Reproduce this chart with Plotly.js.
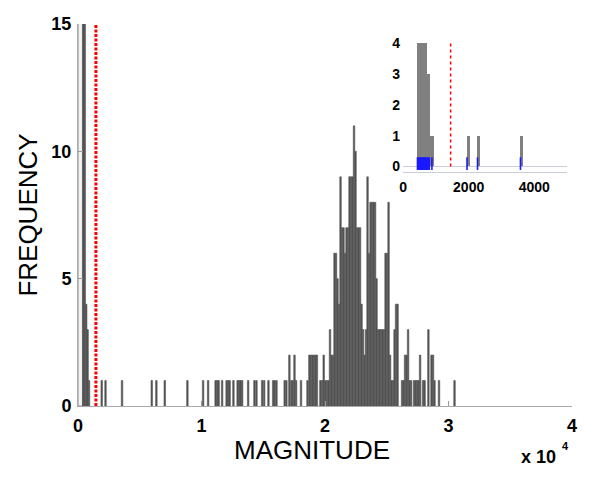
<!DOCTYPE html>
<html><head><meta charset="utf-8">
<script src="https://cdn.plot.ly/plotly-3.0.1.min.js"></script>
<style>html,body{margin:0;padding:0;background:#fff}#chart{width:600px;height:479px}</style>
</head><body><div id="chart"></div>
<script>
// Main histogram: bin centres (magnitude) and counts
const binCenters = [430,550,665,778,891,
  1921,2229,3566,5973,6345,7026,8858,10130,10535,
  11143,11265,11386,11670,12034,12156,12277,12585,
  12926,13047,13169,13290,13777,14287,14450,14911,15073,15422,15803,15924,16071,
  16735,16873,17116,17277,17399,17529,17659,18056,
  18582,18736,18858,18980,19101,19223,19344,
  19628,19758,19895,20033,20163,20292,
  20406,20527,20649,20771,20892,21014,21135,21257,21378,21500,21621,21743,21864,21986,
  22108,22229,22351,22472,22594,22715,22837,22959,23080,23202,23323,23445,23566,23688,
  23810,23931,24053,24174,24296,24417,24539,24661,24782,24904,25025,25147,25268,25390,
  25512,25633,25755,25876,
  26241,26362,26484,26606,26727,26849,26970,
  27213,27335,27457,27578,27700,27943,28064,28372,28624,28746,28866,29231,30487];
const binCounts = [16,16,4,3,1,
  1,1,1,1,1,1,1,1,1,
  1,1,1,1,1,1,1,1,
  1,1,1,1,1,1,1,1,1,1,1,1,1,
  1,1,2,1,1,2,1,1,
  1,2,2,2,2,2,2,
  1,1,2,1,1,1,
  3,2,2,6,6,5,4,9,7,7,6,7,7,9,
  9,9,11,10,7,7,7,4,3,2,3,9,6,8,
  8,8,8,5,3,3,3,3,3,6,6,8,2,1,
  1,3,4,4,
  1,1,2,2,3,1,1,
  1,1,1,1,2,1,1,3,2,2,1,1,1];
// Off-scale first bin (clipped at the top)
const overflowCenters = [180];
const overflowCounts = [16];
// Inset histogram
const insetCenters = [480,580,680,780,880,2000,2300,3610];
const insetCounts = [4,4,4,3,1,1,1,1];
const rugValues = [440,470,500,520,545,570,600,620,640,665,690,715,745,770,800,880,1950,2270,3580];
const threshold = 1450;
// Tick labels
const xTickVals = [0,10000,20000,30000,40000];
const xTickText = ['0','1','2','3','4'];
const yTickVals = [0,5,10,15];
const insetXTicks = [0,2000,4000];
const insetYTicks = [0,1,2,3,4];

const FONT = 'Liberation Sans, Arial, Helvetica, sans-serif';
const tickFont = {family: FONT, size: 18, color: '#000', weight: 'bold'};
const insetTickFont = {family: FONT, size: 14, color: '#000', weight: 'bold'};

const traces = [
  {type:'bar', x: overflowCenters, y: overflowCounts, width: 360,
   marker:{color:'#f3f3f3', line:{color:'#8c8c8c', width:1}}, xaxis:'x', yaxis:'y', hoverinfo:'skip'},
  {type:'bar', x: binCenters, y: binCounts, width: 124,
   marker:{color:'#505050', line:{color:'#5a5a5a', width:0.6}}, xaxis:'x', yaxis:'y'},
  {type:'bar', x: insetCenters, y: insetCounts, width: 100,
   marker:{color:'#808080', line:{width:0}}, xaxis:'x2', yaxis:'y2'},
  {type:'scatter', mode:'markers', x: rugValues, y: rugValues.map(() => 0.09),
   marker:{symbol:'line-ns', size:9, line:{color:'#1a1aff', width:1.6}}, xaxis:'x2', yaxis:'y2'}
];

const layout = {
  width: 600, height: 479,
  margin: {l:78, r:28, t:24, b:73},
  paper_bgcolor:'#fff', plot_bgcolor:'rgba(0,0,0,0)',
  showlegend:false, barmode:'overlay', bargap:0,
  xaxis: {domain:[0,1], range:[0,40000], tickvals:xTickVals, ticktext:xTickText,
    ticks:'inside', ticklen:5, tickcolor:'#999', showline:true, linecolor:'#aaa', linewidth:1,
    showgrid:false, zeroline:false, tickfont:tickFont, ticklabelstandoff:3},
  yaxis: {domain:[0,1], range:[0,15], tickvals:yTickVals,
    ticks:'inside', ticklen:5, tickcolor:'#999', showline:true, linecolor:'#aaa', linewidth:1,
    showgrid:false, zeroline:false, tickfont:tickFont, ticklabelstandoff:2,
    title:{text:'FREQUENCY', font:{family:FONT, size:26, color:'#000'}, standoff:6}},
  xaxis2: {anchor:'y2', domain:[0.658,0.990], range:[0,5000], tickvals:insetXTicks,
    ticks:'', showline:true, linecolor:'#c8cdd8', linewidth:1, showgrid:false, zeroline:false,
    tickfont:insetTickFont, ticklabelstandoff:2},
  yaxis2: {anchor:'x2', domain:[0.6126,0.950], range:[-0.18,4], tickvals:insetYTicks,
    ticks:'', showline:false, showgrid:false, zeroline:true, zerolinecolor:'#c8cdd8', zerolinewidth:1,
    tickfont:insetTickFont, ticklabelstandoff:2},
  shapes: [
    {type:'line', xref:'x', yref:'y', x0:threshold, x1:threshold, y0:0, y1:15,
     line:{color:'#ff0000', width:3, dash:'3px,1.5px'}},
    {type:'line', xref:'x2', yref:'y2', x0:threshold, x1:threshold, y0:0, y1:4,
     line:{color:'#ff0000', width:1.5, dash:'dot'}}
  ],
  annotations: [
    {xref:'paper', yref:'paper', x:0.474, y:-0.115, xanchor:'center', yanchor:'middle',
     text:'MAGNITUDE', showarrow:false, font:{family:FONT, size:26, color:'#000'}},
    {xref:'paper', yref:'paper', x:0.893, y:-0.134, xanchor:'left', yanchor:'middle',
     text:'x 10', showarrow:false, font:{family:FONT, size:18, color:'#000', weight:'bold'}},
    {xref:'paper', yref:'paper', x:0.975, y:-0.106, xanchor:'left', yanchor:'middle',
     text:'4', showarrow:false, font:{family:FONT, size:11, color:'#000', weight:'bold'}}
  ]
};

Plotly.newPlot('chart', traces, layout, {staticPlot:true, displayModeBar:false});
</script>
</body></html>
